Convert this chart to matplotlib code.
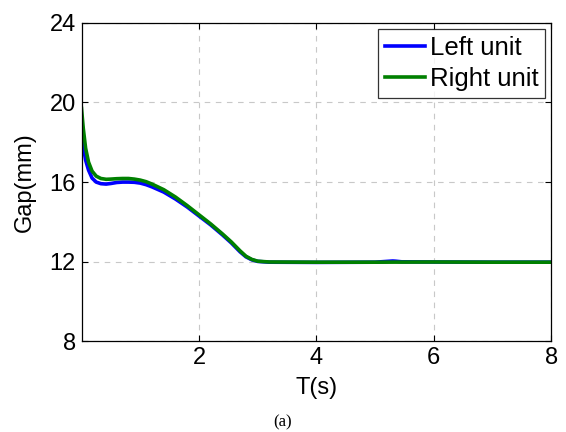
import matplotlib
matplotlib.use("Agg")
import matplotlib.pyplot as plt

# Data
t_left = [0.0, 0.03, 0.07, 0.12, 0.18, 0.25, 0.33, 0.42, 0.5, 0.6, 0.7, 0.8, 0.9, 1.0,
          1.1, 1.2, 1.4, 1.6, 1.8, 2.0, 2.2, 2.4, 2.55, 2.7, 2.8, 2.9, 3.0, 3.2, 4.0,
          5.0, 5.3, 5.35, 5.45, 6.0, 7.0, 8.0]
gap_left = [18.6, 17.8, 17.1, 16.6, 16.2, 16.0, 15.92, 15.9, 15.93, 15.98, 16.0, 16.0, 15.99, 15.95,
            15.87, 15.76, 15.5, 15.15, 14.75, 14.3, 13.85, 13.35, 12.95, 12.5, 12.25, 12.1, 12.02, 11.98, 11.97,
            11.98, 12.04, 12.03, 12.0, 11.99, 11.98, 11.98]

t_right = [0.0, 0.03, 0.07, 0.12, 0.18, 0.25, 0.33, 0.42, 0.5, 0.6, 0.7, 0.8, 0.9, 1.0,
           1.1, 1.2, 1.4, 1.6, 1.8, 2.0, 2.2, 2.4, 2.55, 2.7, 2.8, 2.9, 3.0, 3.2, 4.0,
           5.0, 6.0, 7.0, 8.0]
gap_right = [19.7, 18.7, 17.7, 17.0, 16.55, 16.3, 16.18, 16.14, 16.15, 16.17, 16.18, 16.18, 16.15, 16.1,
             16.02, 15.9, 15.62, 15.25, 14.82, 14.36, 13.9, 13.4, 13.0, 12.55, 12.28, 12.12, 12.03, 11.99, 11.98,
             11.98, 11.99, 11.98, 11.98]

x_ticks = [2, 4, 6, 8]
y_ticks = [8, 12, 16, 20, 24]

plt.rcParams["font.family"] = ["Liberation Sans", "DejaVu Sans"]

fig = plt.figure(figsize=(5.66, 4.32), dpi=100)
ax = fig.add_axes([0.144, 0.2095, 0.830, 0.738])

ax.plot(t_left, gap_left, color="#0000ff", linewidth=2.6, label="Left unit")
ax.plot(t_right, gap_right, color="#008000", linewidth=2.6, label="Right unit")

ax.set_xlim(0, 8)
ax.set_ylim(8, 24)
ax.set_xticks(x_ticks)
ax.set_yticks(y_ticks)
ax.tick_params(direction="in", top=True, right=True, labelsize=17, length=4, width=0.8, pad=4)
ax.grid(True, color="#c8c8c8", linestyle=(0, (5, 5)), linewidth=0.8)
for s in ax.spines.values():
    s.set_linewidth(0.9)

ax.set_xlabel("T(s)", fontsize=17, labelpad=6)
ax.set_ylabel("Gap(mm)", fontsize=17, labelpad=10)

leg = ax.legend(loc="upper right", fontsize=18.5, frameon=True, fancybox=False, edgecolor="black",
                borderpad=0.25, labelspacing=0.3, handlelength=1.55, handletextpad=0.2,
                borderaxespad=0.25)
leg.get_frame().set_linewidth(0.9)

fig.text(0.5, 0.022, "(a)", ha="center", va="center", fontsize=12, family="Liberation Serif")

fig.savefig("out.png", dpi=100)
